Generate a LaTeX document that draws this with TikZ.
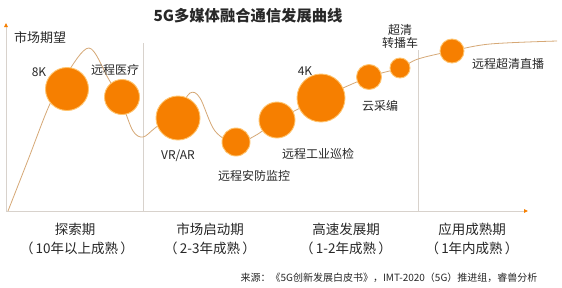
\documentclass[tikz,border=0pt]{standalone}
\usepackage{fontspec}
\setmainfont{Noto Sans CJK SC}
\usetikzlibrary{arrows.meta}
\definecolor{bubble}{RGB}{246,127,0}
\definecolor{halo}{RGB}{255,196,110}
\definecolor{curvec}{RGB}{214,168,118}
\definecolor{axisc}{RGB}{216,210,204}
\definecolor{txt}{RGB}{40,40,40}
\tikzset{
  bub/.style={circle, fill=bubble, draw=halo, line width=0.9pt, inner sep=0pt},
  lab/.style={text=txt, inner sep=0pt, font=\fontsize{12}{14}\selectfont},
  per/.style={text=txt, inner sep=0pt, font=\fontsize{13.5}{16}\selectfont},
  axisline/.style={draw=axisc, line width=0.9pt},
  divline/.style={draw=axisc, line width=0.7pt},
  tip/.style={-{Triangle[length=4pt,width=3.5pt,fill=bubble,color=bubble]}}
}
\begin{document}
\begin{tikzpicture}[x=1pt,y=-1pt]
\useasboundingbox[fill=white] (0,0) rectangle (562,287);
% axes
\coordinate (org) at (6,211);
\coordinate (ytop) at (6,23);
\coordinate (xend) at (528,211);
\draw[axisline,tip] (org) -- (ytop);
\draw[axisline,tip] (org) -- (xend);
% dividers
\coordinate (d1t) at (143,43); \coordinate (d1b) at (143,211);
\coordinate (d2t) at (418,50); \coordinate (d2b) at (418,211);
\draw[divline] (d1t) -- (d1b);
\draw[divline] (d2t) -- (d2b);
% curve
\draw[curvec, line width=0.8pt] plot[smooth, tension=0.55] coordinates {
 (8,211) (28,160) (49,106) (66,75) (89,48) (108,78) (122,104) (133,131) (143,137)
 (155,128) (178,110) (190,93) (200,98) (215,131) (236,143) (258,134) (277,120)
 (321,98) (369,77) (400,68) (418,59) (452,51) (490,44) (557,41)};
% bubbles
\node[bub, minimum size=43pt] (c8k) at (67,89) {};
\node[bub, minimum size=35pt] (cmed) at (122,97) {};
\node[bub, minimum size=44pt] (cvr) at (178,118) {};
\node[bub, minimum size=28pt] (csec) at (236,142) {};
\node[bub, minimum size=36pt] (cind) at (277,120) {};
\node[bub, minimum size=48pt] (c4k) at (321,98) {};
\node[bub, minimum size=25pt] (ccloud) at (369,77) {};
\node[bub, minimum size=20pt] (ccar) at (400,68) {};
\node[bub, minimum size=24pt] (clive) at (452,51) {};
% labels
\node[text=txt, inner sep=0pt, font=\fontsize{15.3}{18}\selectfont\bfseries] (title) at (248,16) {5G多媒体融合通信发展曲线};
\node[lab, font=\fontsize{13}{15}\selectfont] (ylab) at (40,38) {市场期望};
\node[lab] (l8k) at (39,72) {8K};
\node[lab] (lmed) at (115,70) {远程医疗};
\node[lab] (lvr) at (178,156) {VR/AR};
\node[lab] (lsec) at (254,176) {远程安防监控};
\node[lab] (lind) at (318,154) {远程工业巡检};
\node[lab] (l4k) at (305,71) {4K};
\node[lab] (lcloud) at (380,106) {云采编};
\node[lab, align=center] (lcar) at (400,36) {超清\\[-1pt]转播车};
\node[lab] (llive) at (508,64) {远程超清直播};
% periods
\node[per] (p1) at (75,229) {探索期};
\node[per] (p1b) at (77,248) {（\,10年以上成熟\,）};
\node[per] (p2) at (210,229) {市场启动期};
\node[per] (p2b) at (210,248) {（\,2-3年成熟\,）};
\node[per] (p3) at (346,229) {高速发展期};
\node[per] (p3b) at (346,248) {（\,1-2年成熟\,）};
\node[per] (p4) at (472,229) {应用成熟期};
\node[per] (p4b) at (472,248) {（\,1年内成熟\,）};
\node[text=txt, inner sep=0pt, font=\fontsize{10}{12}\selectfont] (src) at (389,278) {来源：《5G创新发展白皮书》，IMT-2020（5G）推进组，睿兽分析};
\end{tikzpicture}
\end{document}
